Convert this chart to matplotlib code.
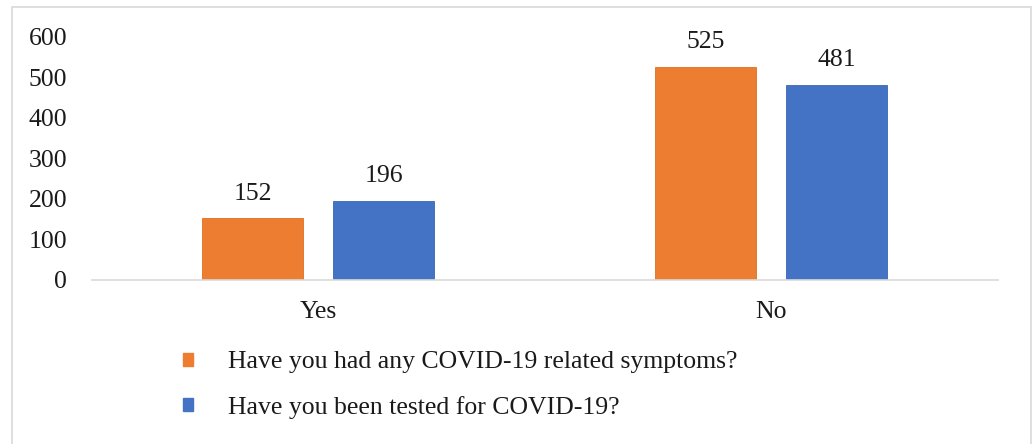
import matplotlib
matplotlib.use("Agg")
import matplotlib.pyplot as plt
from matplotlib.patches import Patch, Rectangle
import numpy as np

categories = ["Yes", "No"]
symptoms = [152, 525]
tested = [196, 481]
series_names = ["Have you had any COVID-19 related symptoms?",
                "Have you been tested for COVID-19?"]

ORANGE = "#ED7D31"
BLUE = "#4472C4"

plt.rcParams["font.family"] = ["Liberation Serif", "DejaVu Serif"]
plt.rcParams["font.size"] = 18.5

fig = plt.figure(figsize=(10.34, 4.44), dpi=100)
ax = fig.add_axes([0.089, 0.3694, 0.876, 0.5473])

# chart border (bottom edge falls outside the picture)
fig.patches.append(Rectangle((12 / 1034, -0.05), 1019 / 1034, 1.05 - 7 / 444,
                             transform=fig.transFigure, fill=False,
                             edgecolor="#d9d9d9", linewidth=1.2))

x = np.arange(len(categories))
w = 0.223
off = 0.1446
b1 = ax.bar(x - off, symptoms, w, color=ORANGE, edgecolor="#e07020", linewidth=0.6)
b2 = ax.bar(x + off, tested, w, color=BLUE, edgecolor="#3a66b8", linewidth=0.6)

for bars in (b1, b2):
    for r in bars:
        ax.annotate(f"{int(r.get_height())}", (r.get_x() + r.get_width() / 2, r.get_height()),
                    xytext=(0, 10), textcoords="offset points", ha="center", va="bottom",
                    color="#1a1a1a")

ax.set_xlim(-0.5, 1.5)
ax.set_ylim(0, 600)
ax.set_yticks(range(0, 601, 100))
ax.set_xticks(x)
ax.set_xticklabels(categories)
ax.tick_params(axis="both", length=0, colors="#1a1a1a")
ax.tick_params(axis="x", pad=15)
ax.tick_params(axis="y", pad=18)
for s in ("top", "right", "left"):
    ax.spines[s].set_visible(False)
ax.spines["bottom"].set_color("#d9d9d9")
ax.spines["bottom"].set_linewidth(1.2)

handles = [Patch(facecolor=ORANGE, edgecolor=ORANGE), Patch(facecolor=BLUE, edgecolor=BLUE)]
fig.legend(handles, series_names, loc="upper left", bbox_to_anchor=(0.177, 0.2085),
           frameon=False, handlelength=0.39, handleheight=0.39, handletextpad=1.36,
           labelspacing=0.87, borderaxespad=0, borderpad=0, labelcolor="#1a1a1a")

fig.savefig("out.png", dpi=100)
